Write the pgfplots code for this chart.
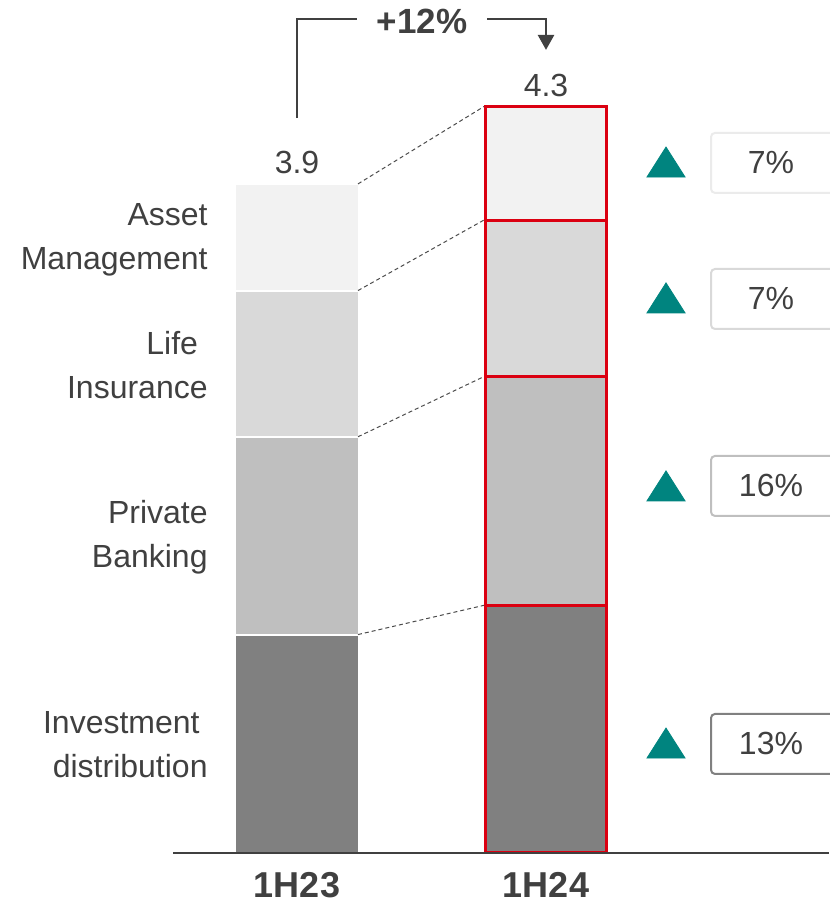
\documentclass[border=0pt]{standalone}
\usepackage{pgfplots}
\pgfplotsset{compat=1.18}
\usepackage{fontspec}
\setmainfont{Liberation Sans}
\usetikzlibrary{arrows.meta}
\definecolor{cID}{HTML}{808080}
\definecolor{cPB}{HTML}{BFBFBF}
\definecolor{cLI}{HTML}{D9D9D9}
\definecolor{cAM}{HTML}{F2F2F2}
\definecolor{hred}{HTML}{DB0011}
\definecolor{cTeal}{HTML}{00847F}
\definecolor{txt}{HTML}{404040}
\newcommand{\lbl}{\fontsize{16pt}{22pt}\selectfont}
\newcommand{\blbl}{\fontsize{18pt}{22pt}\selectfont\bfseries}
\pgfplotsset{base/.style={hide axis, scale only axis, x=0.5pt, y=86pt,
  xmin=0, xmax=829, ymin=0, ymax=4.96, at={(0pt,25pt)}, anchor=origin, clip=false}}
\begin{document}
\begin{tikzpicture}
\useasboundingbox (0,0) rectangle (414.5pt,451.5pt);
% 1H23 bar
\begin{axis}[base, ybar stacked, bar width=62pt]
\addplot[fill=cID, draw=white, line width=1pt] coordinates {(297,1.27)};
\addplot[fill=cPB, draw=white, line width=1pt] coordinates {(297,1.15)};
\addplot[fill=cLI, draw=white, line width=1pt] coordinates {(297,0.85)};
\addplot[fill=cAM, draw=white, line width=1pt] coordinates {(297,0.62)};
\end{axis}
% 1H24 bar
\begin{axis}[base, ybar stacked, bar width=60.5pt]
\addplot[fill=cID, draw=hred, line width=1.5pt] coordinates {(546,1.44)};
\addplot[fill=cPB, draw=hred, line width=1.5pt] coordinates {(546,1.33)};
\addplot[fill=cLI, draw=hred, line width=1.5pt] coordinates {(546,0.91)};
\addplot[fill=cAM, draw=hred, line width=1.5pt] coordinates {(546,0.66)};
\end{axis}
% annotations
\begin{axis}[base]
\addplot[only marks, mark=triangle*, mark size=10pt, color=cTeal, mark options={xscale=1.1}]
  coordinates {(666,3.988) (666,3.198) (666,2.105) (666,0.610)};
% baseline
\draw[txt, line width=1pt] (axis cs:173,0) -- (axis cs:829,0);
% connectors
\begin{scope}[black!70, line width=0.5pt, dash pattern=on 2pt off 1.5pt]
\draw (axis cs:358,1.27) -- (axis cs:484,1.44);
\draw (axis cs:358,2.42) -- (axis cs:484,2.77);
\draw (axis cs:358,3.27) -- (axis cs:484,3.68);
\draw (axis cs:358,3.89) -- (axis cs:484,4.34);
\end{scope}
% growth arrow
\draw[txt, line width=1.3pt] (axis cs:297,4.273) -- (axis cs:297,4.849) -- (axis cs:357,4.849);
\draw[txt, line width=1.3pt, -{Triangle[length=7.5pt,width=8pt]}] (axis cs:487,4.849) -- (axis cs:546,4.849) -- (axis cs:546,4.669);
\node[font=\fontsize{17.5pt}{22pt}\selectfont\bfseries, text=txt, inner sep=0pt] at (axis cs:422,4.837) {+12\%};
% totals
\node[font=\lbl, text=txt, inner sep=0pt] at (axis cs:297,4.017) {3.9};
\node[font=\lbl, text=txt, inner sep=0pt] at (axis cs:546,4.465) {4.3};
% category labels
\node[font=\lbl, text=txt, inner sep=0pt, align=right, anchor=east] at (axis cs:208,3.564) {Asset\\Management};
\node[font=\lbl, text=txt, inner sep=0pt, align=right, anchor=east] at (axis cs:208,2.837) {Life\hspace*{0.3em}\\Insurance};
\node[font=\lbl, text=txt, inner sep=0pt, align=right, anchor=east] at (axis cs:208,1.837) {Private\\Banking};
\node[font=\lbl, text=txt, inner sep=0pt, align=right, anchor=east] at (axis cs:208,0.628) {Investment\hspace*{0.25em}\\distribution};
% x labels
\node[font=\blbl, text=txt, inner sep=0pt] at (axis cs:297,-0.186) {1H23};
\node[font=\blbl, text=txt, inner sep=0pt] at (axis cs:546,-0.186) {1H24};
% growth boxes
\node[draw=black!8, line width=1pt, rounded corners=2pt, minimum width=70pt, minimum height=30pt, anchor=west] at (axis cs:710,4.012) {};
\node[draw=cLI, line width=1pt, rounded corners=2pt, minimum width=70pt, minimum height=30pt, anchor=west] at (axis cs:710,3.221) {};
\node[draw=cPB, line width=1pt, rounded corners=2pt, minimum width=70pt, minimum height=30pt, anchor=west] at (axis cs:710,2.134) {};
\node[draw=cID, line width=1pt, rounded corners=2pt, minimum width=70pt, minimum height=30pt, anchor=west] at (axis cs:710,0.634) {};
\node[font=\lbl, text=txt, inner sep=0pt] at (axis cs:771,4.012) {7\%};
\node[font=\lbl, text=txt, inner sep=0pt] at (axis cs:771,3.221) {7\%};
\node[font=\lbl, text=txt, inner sep=0pt] at (axis cs:771,2.134) {16\%};
\node[font=\lbl, text=txt, inner sep=0pt] at (axis cs:771,0.634) {13\%};
\end{axis}
\end{tikzpicture}
\end{document}
